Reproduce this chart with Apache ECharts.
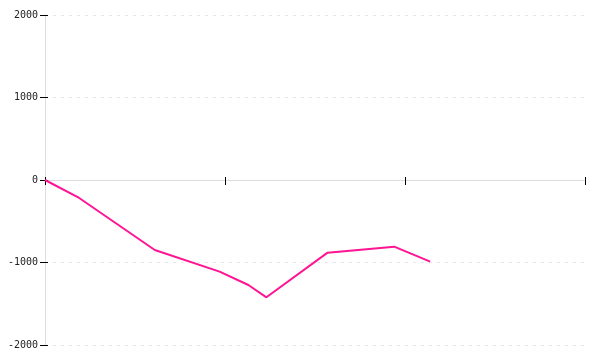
<!DOCTYPE html>
<html><head><meta charset="utf-8">
<script src="https://cdn.jsdelivr.net/npm/echarts@6/dist/echarts.min.js"></script>
<style>html,body{margin:0;padding:0;background:#fff}#c{width:600px;height:360px}</style>
</head><body><div id="c"></div>
<script>
var xValues = [0, 19, 61, 97, 113, 123, 157, 194, 214];
var yValues = [0, -218, -848, -1111, -1273, -1422, -881, -808, -990];
var yTicks = [-2000, -1000, 0, 1000, 2000];

var chart = echarts.init(document.getElementById('c'));
var data = xValues.map(function (x, i) { return [x, yValues[i]]; });
var fontFam = 'DejaVu Sans Mono';
var yBase = {
  type: 'value', min: yTicks[0], max: yTicks[yTicks.length - 1], interval: 1000,
  position: 'left'
};
chart.setOption({
  animation: false,
  grid: { left: 45, right: 15, top: 15, bottom: 15, containLabel: false },
  xAxis: [{
    type: 'value', min: 0, max: 300, interval: 100,
    axisLine: { onZero: true, lineStyle: { color: '#dddddd', width: 1 } },
    axisTick: { show: true, length: 5, lineStyle: { color: '#000' } },
    axisLabel: { show: false },
    splitLine: { show: false }
  }, {
    type: 'value', min: 0, max: 300, interval: 100, position: 'bottom',
    axisLine: { show: true, onZero: true, lineStyle: { color: '#dddddd', width: 1 } },
    axisTick: { show: true, inside: true, length: 3, lineStyle: { color: '#000' } },
    axisLabel: { show: false },
    splitLine: { show: false }
  }],
  yAxis: [Object.assign({}, yBase, {
    axisLine: { show: true, onZero: false, lineStyle: { color: '#dddddd' } },
    axisTick: { show: true, length: 5, lineStyle: { color: '#000' } },
    axisLabel: { color: '#222', fontFamily: fontFam, fontSize: 10, margin: 7,
      formatter: function (v) { return String(v); } },
    splitLine: { show: true, lineStyle: { color: '#e6e6e6', type: [3, 5] } }
  }), Object.assign({}, yBase, {
    axisLine: { show: true, onZero: false, lineStyle: { color: '#dddddd' } },
    axisTick: { show: true, inside: true, length: 3, lineStyle: { color: '#000' } },
    axisLabel: { show: false },
    splitLine: { show: false }
  })],
  series: [{
    type: 'line', data: data, showSymbol: false, symbol: 'none',
    lineStyle: { color: '#ff1493', width: 2 }, itemStyle: { color: '#ff1493' }
  }]
});
</script></body></html>
